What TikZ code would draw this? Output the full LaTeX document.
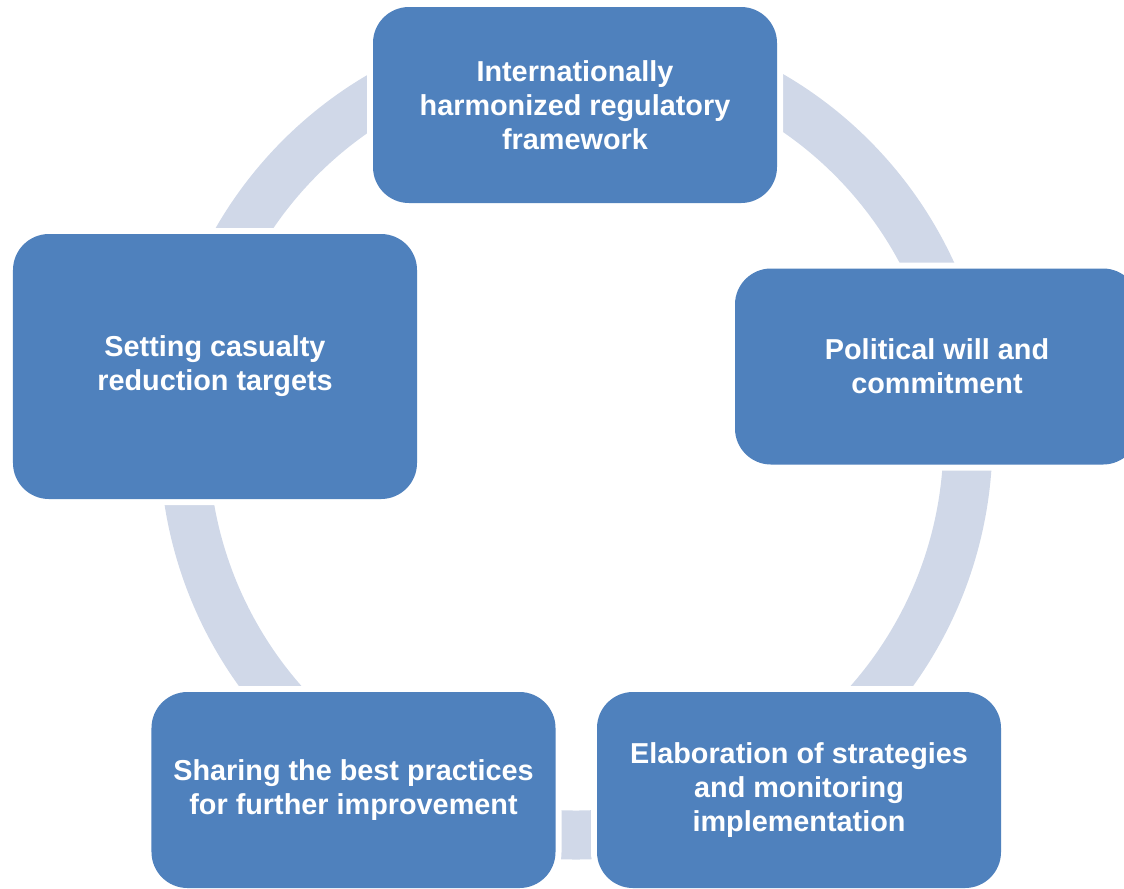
\documentclass[tikz,border=0pt]{standalone}
\usepackage{fontspec}
\setmainfont{Liberation Sans}
\usepackage{tikz}
\usetikzlibrary{positioning,calc}

\definecolor{stageblue}{HTML}{4F81BD}
\definecolor{ringgrey}{HTML}{D0D8E8}

\tikzset{
  stage/.style={shape=rectangle, rounded corners=7.2mm, fill=stageblue,
    preaction={draw=white, line width=2.4mm},
    minimum width=80.8mm, minimum height=39.2mm, inner sep=0pt,
    text=white, align=center,
    font=\bfseries\fontsize{16.4}{19.3}\selectfont},
  ring/.style={draw=ringgrey, line width=9.8mm}
}

\begin{document}
\begin{tikzpicture}[x=0.2mm, y=-0.2mm]
\useasboundingbox (0,0) rectangle (1124,888);
  % ring behind the stages
  \draw[ring] (576,439) ellipse [x radius=78.4mm, y radius=79.2mm];

  \node[stage] (F) at (575,105) {Internationally\\harmonized regulatory\\framework};
  \node[stage] (P) at (937,366.5) {Political will and\\commitment};
  \node[stage] (E) at (799,790) {Elaboration of strategies\\and monitoring\\implementation};
  \node[stage] (S) at (353.5,790) {Sharing the best practices\\for further improvement};
  \node[stage, minimum height=53mm] (T) at (215,366.5) {Setting casualty\\reduction targets};
\end{tikzpicture}
\end{document}
